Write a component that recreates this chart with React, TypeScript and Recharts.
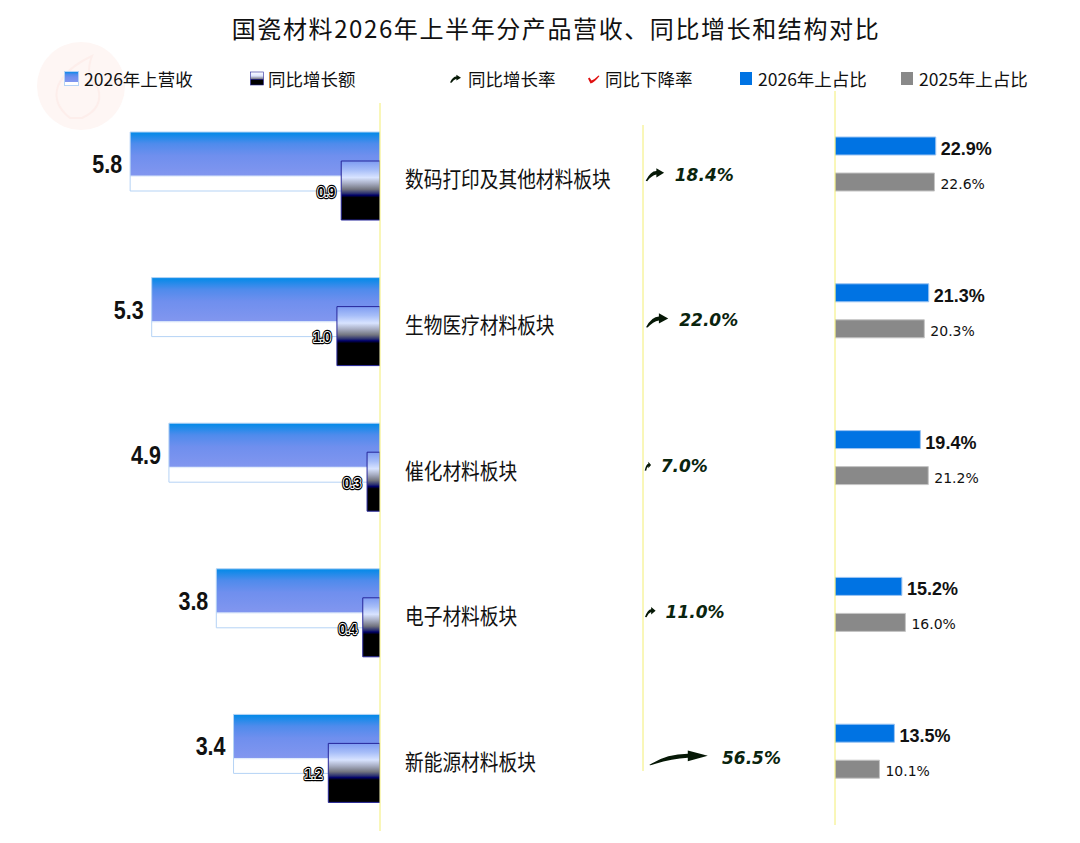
import React from "react";
import { BarChart, Bar, XAxis, YAxis, LabelList } from "recharts";

// 国瓷材料 2026H1 by segment (亿元 / %)
const categories = [
  "数码打印及其他材料板块",
  "生物医疗材料板块",
  "催化材料板块",
  "电子材料板块",
  "新能源材料板块",
];
const revenue2026H1 = [5.8, 5.3, 4.9, 3.8, 3.4];
const yoyIncrease = [0.9, 1.0, 0.3, 0.4, 1.2];
const yoyRate = [18.4, 22.0, 7.0, 11.0, 56.5];
const share2026H1 = [22.9, 21.3, 19.4, 15.2, 13.5];
const share2025H1 = [22.6, 20.3, 21.2, 16.0, 10.1];

const legendLabels = ["2026年上营收", "同比增长额", "同比增长率", "同比下降率", "2026年上占比", "2025年上占比"];

const rows = categories.map((name, i) => ({
  name,
  idx: i,
  revenue: revenue2026H1[i],
  increase: yoyIncrease[i],
  rate: yoyRate[i],
  share26: share2026H1[i],
  share25: share2025H1[i],
}));

const CJK = '"Noto Sans CJK SC", "Noto Sans", sans-serif';
const SANS = '"Liberation Sans", Arial, sans-serif';
const AXIS_YELLOW = "#f3ee72";

function arrowPath(L: number, R: number, top: number, h: number) {
  const w = R - L;
  const hl = Math.min(w * 0.42, 20);
  const hh = Math.min(h * 0.38, 5.5);
  const t = hh * 0.75;
  const tipY = top + h * 0.35;
  const baseX = R - hl;
  const bottom = top + h;
  const span = baseX - L;
  return (
    `M${L},${bottom} Q${L + span * 0.45},${tipY - t / 2} ${baseX},${tipY - t / 2} ` +
    `L${baseX},${tipY - hh} L${R},${tipY} L${baseX},${tipY + hh} L${baseX},${tipY + t / 2} ` +
    `Q${L + span * 0.55},${tipY + t / 2 + 1} ${L + 1.5},${bottom + 0.3} Z`
  );
}

const CategoryTick = (p: any) => {
  const { x, y, payload } = p;
  return (
    <g transform={`translate(${Number(x) + 25},${Number(y) + 2})`}>
      <text transform="scale(0.85,1)" fontFamily={CJK} fontSize={22} fill="#111" dominantBaseline="central">
        {payload.value}
      </text>
    </g>
  );
};

const RevenueLabel = (p: any) => {
  const x = Number(p.x), w = Number(p.width), y = Number(p.y), h = Number(p.height);
  const left = Math.min(x, x + w);
  return (
    <g transform={`translate(${left - 8},${y + h / 2 + 3})`}>
      <text transform="scale(0.86,1)" textAnchor="end" dominantBaseline="central"
        fontFamily={SANS} fontWeight="bold" fontSize={25} fill="#111">
        {Number(p.value).toFixed(1)}
      </text>
    </g>
  );
};

const IncreaseLabel = (p: any) => {
  const x = Number(p.x), w = Number(p.width), y = Number(p.y), h = Number(p.height);
  const left = Math.min(x, x + w);
  const common = {
    textAnchor: "end" as const, dominantBaseline: "central" as const,
    fontFamily: SANS, fontWeight: "bold" as const, fontSize: 15, strokeLinejoin: "round" as const,
  };
  const txt = Number(p.value).toFixed(1);
  return (
    <g transform={`translate(${left - 6},${y + h / 2 + 1})`}>
      <g transform="scale(0.85,1)">
        <text {...common} fill="#000" stroke="#000" strokeWidth={4.4}>{txt}</text>
        <text {...common} fill="#000" stroke="#fff" strokeWidth={2.1} paintOrder="stroke">{txt}</text>
      </g>
    </g>
  );
};

const ArrowShape = (p: any) => {
  const x = Number(p.x), w = Number(p.width), y = Number(p.y), h = Number(p.height);
  const yc = y + h / 2;
  const ah = Math.min(14, 6 + w * 0.3);
  return <path d={arrowPath(x + 1 + w * 0.08, x + w, yc - ah / 2, ah)} fill="#061806" />;
};

const RateLabel = (p: any) => {
  const x = Number(p.x), w = Number(p.width), y = Number(p.y), h = Number(p.height);
  return (
    <text x={x + w + 9 + w * 0.08} y={y + h / 2} dominantBaseline="central"
      fontFamily='"DejaVu Sans", sans-serif' fontWeight="bold" fontStyle="italic" fontSize={17} fill="#0a240e">
      {Number(p.value).toFixed(1)}%
    </text>
  );
};

const Share26Label = (p: any) => {
  const x = Number(p.x), w = Number(p.width), y = Number(p.y), h = Number(p.height);
  return (
    <text x={x + w + 5} y={y + h / 2 + 3} dominantBaseline="central"
      fontFamily={SANS} fontWeight="bold" fontSize={18} fill="#111">
      {Number(p.value).toFixed(1)}%
    </text>
  );
};

const Share25Label = (p: any) => {
  const x = Number(p.x), w = Number(p.width), y = Number(p.y), h = Number(p.height);
  return (
    <text x={x + w + 6} y={y + h / 2 + 2} dominantBaseline="central"
      fontFamily='"DejaVu Sans", sans-serif' fontSize={14} fill="#111">
      {Number(p.value).toFixed(1)}%
    </text>
  );
};

function Header() {
  const ty = 78;
  const textProps = { fontFamily: CJK, fontSize: 17.5, fill: "#111", dominantBaseline: "central" as const };
  return (
    <svg width={1080} height={140} style={{ position: "absolute", left: 0, top: 0 }}>
      {/* faint watermark */}
      <circle cx={81} cy={86} r={44} fill="#fef6f4" />
      <path d="M70,118 Q52,104 58,86 Q66,68 92,56 Q84,76 98,88 Q104,108 82,118 Z" fill="none" stroke="#fdeeeb" strokeWidth={2} />
      <text x={556} y={27} textAnchor="middle" dominantBaseline="central" fontFamily={CJK} fontSize={24}
        letterSpacing={1.6} fill="#111">
        国瓷材料2026年上半年分产品营收、同比增长和结构对比
      </text>

      <rect x={64.5} y={71.5} width={14} height={14} fill="url(#revFill)" stroke="#b5d3f5" />
      <text x={84} y={ty} {...textProps}>{legendLabels[0]}</text>

      <rect x={250.5} y={72} width={13} height={13} fill="url(#incLegend)" stroke="#26269a" strokeWidth={0.6} />
      <text x={268} y={ty} {...textProps}>{legendLabels[1]}</text>

      <path d={arrowPath(450, 461, 75, 7.5)} fill="#061806" />
      <text x={468} y={ty} {...textProps}>{legendLabels[2]}</text>

      <path d="M588,78.5 L590.5,83.5 Q594.5,82.5 599.5,76 L598.5,75.5 Q594.5,79.5 591.5,80.5 L589.5,77.5 Z" fill="#e01010" />
      <text x={605} y={ty} {...textProps}>{legendLabels[3]}</text>

      <rect x={740} y={72} width={12} height={13} fill="#0073e3" />
      <text x={758} y={ty} {...textProps}>{legendLabels[4]}</text>

      <rect x={901} y={72} width={12} height={13} fill="#898989" />
      <text x={919} y={ty} {...textProps}>{legendLabels[5]}</text>
    </svg>
  );
}

export default function App() {
  return (
    <div style={{ position: "absolute", left: 0, top: 0, width: 1080, height: 843, background: "#fff", overflow: "hidden" }}>
      <svg width={0} height={0} style={{ position: "absolute" }}>
        <defs>
          <linearGradient id="revFill" x1="0" y1="0" x2="0" y2="1">
            <stop offset="0" stopColor="#008ae8" />
            <stop offset="0.2" stopColor="#4f8bec" />
            <stop offset="0.4" stopColor="#6f8fee" />
            <stop offset="0.73" stopColor="#8196ef" />
            <stop offset="0.745" stopColor="#dce8fa" />
            <stop offset="0.77" stopColor="#ffffff" />
            <stop offset="1" stopColor="#ffffff" />
          </linearGradient>
          <linearGradient id="incFill" x1="0" y1="0" x2="0" y2="1">
            <stop offset="0" stopColor="#7e9cf2" />
            <stop offset="0.15" stopColor="#a6bdf8" />
            <stop offset="0.28" stopColor="#d8e3ff" />
            <stop offset="0.38" stopColor="#a8aec4" />
            <stop offset="0.48" stopColor="#737580" />
            <stop offset="0.55" stopColor="#2a2f70" />
            <stop offset="0.58" stopColor="#00006a" />
            <stop offset="0.62" stopColor="#000000" />
            <stop offset="1" stopColor="#000000" />
          </linearGradient>
          <linearGradient id="incLegend" x1="0" y1="0" x2="0" y2="1">
            <stop offset="0" stopColor="#ffffff" />
            <stop offset="0.3" stopColor="#dfe6ff" />
            <stop offset="0.5" stopColor="#8a8a96" />
            <stop offset="0.6" stopColor="#000060" />
            <stop offset="0.65" stopColor="#000000" />
            <stop offset="1" stopColor="#000000" />
          </linearGradient>
        </defs>
      </svg>

      <Header />

      {/* left: revenue and yoy increase, bars growing leftwards */}
      <div style={{ position: "absolute", left: 0, top: 0 }}>
        <BarChart width={640} height={843} data={rows} layout="vertical" barGap={-30}
          margin={{ top: 103, right: 0, bottom: 12, left: 100 }}>
          <XAxis type="number" domain={[0, 6.5]} reversed hide allowDataOverflow />
          <YAxis type="category" dataKey="name" orientation="right" width={260} interval={0}
            axisLine={{ stroke: AXIS_YELLOW }} tickLine={false} tickSize={0} tickMargin={0}
            tick={<CategoryTick />} />
          <Bar dataKey="revenue" barSize={59} fill="url(#revFill)" stroke="#b5d3f5" isAnimationActive={false}>
            <LabelList dataKey="revenue" content={RevenueLabel} />
          </Bar>
          <Bar dataKey="increase" barSize={59} fill="url(#incFill)" stroke="#26269a" isAnimationActive={false}>
            <LabelList dataKey="increase" content={IncreaseLabel} />
          </Bar>
        </BarChart>
      </div>

      {/* middle: yoy growth rate arrows */}
      <div style={{ position: "absolute", left: 600, top: 0 }}>
        <BarChart width={255} height={843} data={rows} layout="vertical"
          margin={{ top: 125, right: 40, bottom: 72, left: 42 }}>
          <XAxis type="number" domain={[0, 150]} hide allowDataOverflow />
          <YAxis type="number" dataKey="idx" domain={[-0.34, 4.09]} allowDataOverflow width={1}
            tick={false} tickLine={false} axisLine={{ stroke: AXIS_YELLOW }} />
          <Bar dataKey="rate" barSize={14} shape={ArrowShape} isAnimationActive={false}>
            <LabelList dataKey="rate" content={RateLabel} />
          </Bar>
        </BarChart>
      </div>

      {/* right: structure share 2026H1 vs 2025H1 */}
      <div style={{ position: "absolute", left: 800, top: 0 }}>
        <BarChart width={280} height={843} data={rows} layout="vertical" barGap={18}
          margin={{ top: 91, right: 25, bottom: 18, left: 34 }}>
          <XAxis type="number" domain={[0, 50]} hide allowDataOverflow />
          <YAxis type="category" dataKey="name" width={1} tick={false} tickLine={false}
            axisLine={{ stroke: AXIS_YELLOW }} />
          <Bar dataKey="share26" barSize={18} fill="#0073e3" stroke="#9cc4f2" isAnimationActive={false}>
            <LabelList dataKey="share26" content={Share26Label} />
          </Bar>
          <Bar dataKey="share25" barSize={18} fill="#898989" stroke="#c4c4c4" isAnimationActive={false}>
            <LabelList dataKey="share25" content={Share25Label} />
          </Bar>
        </BarChart>
      </div>
    </div>
  );
}
